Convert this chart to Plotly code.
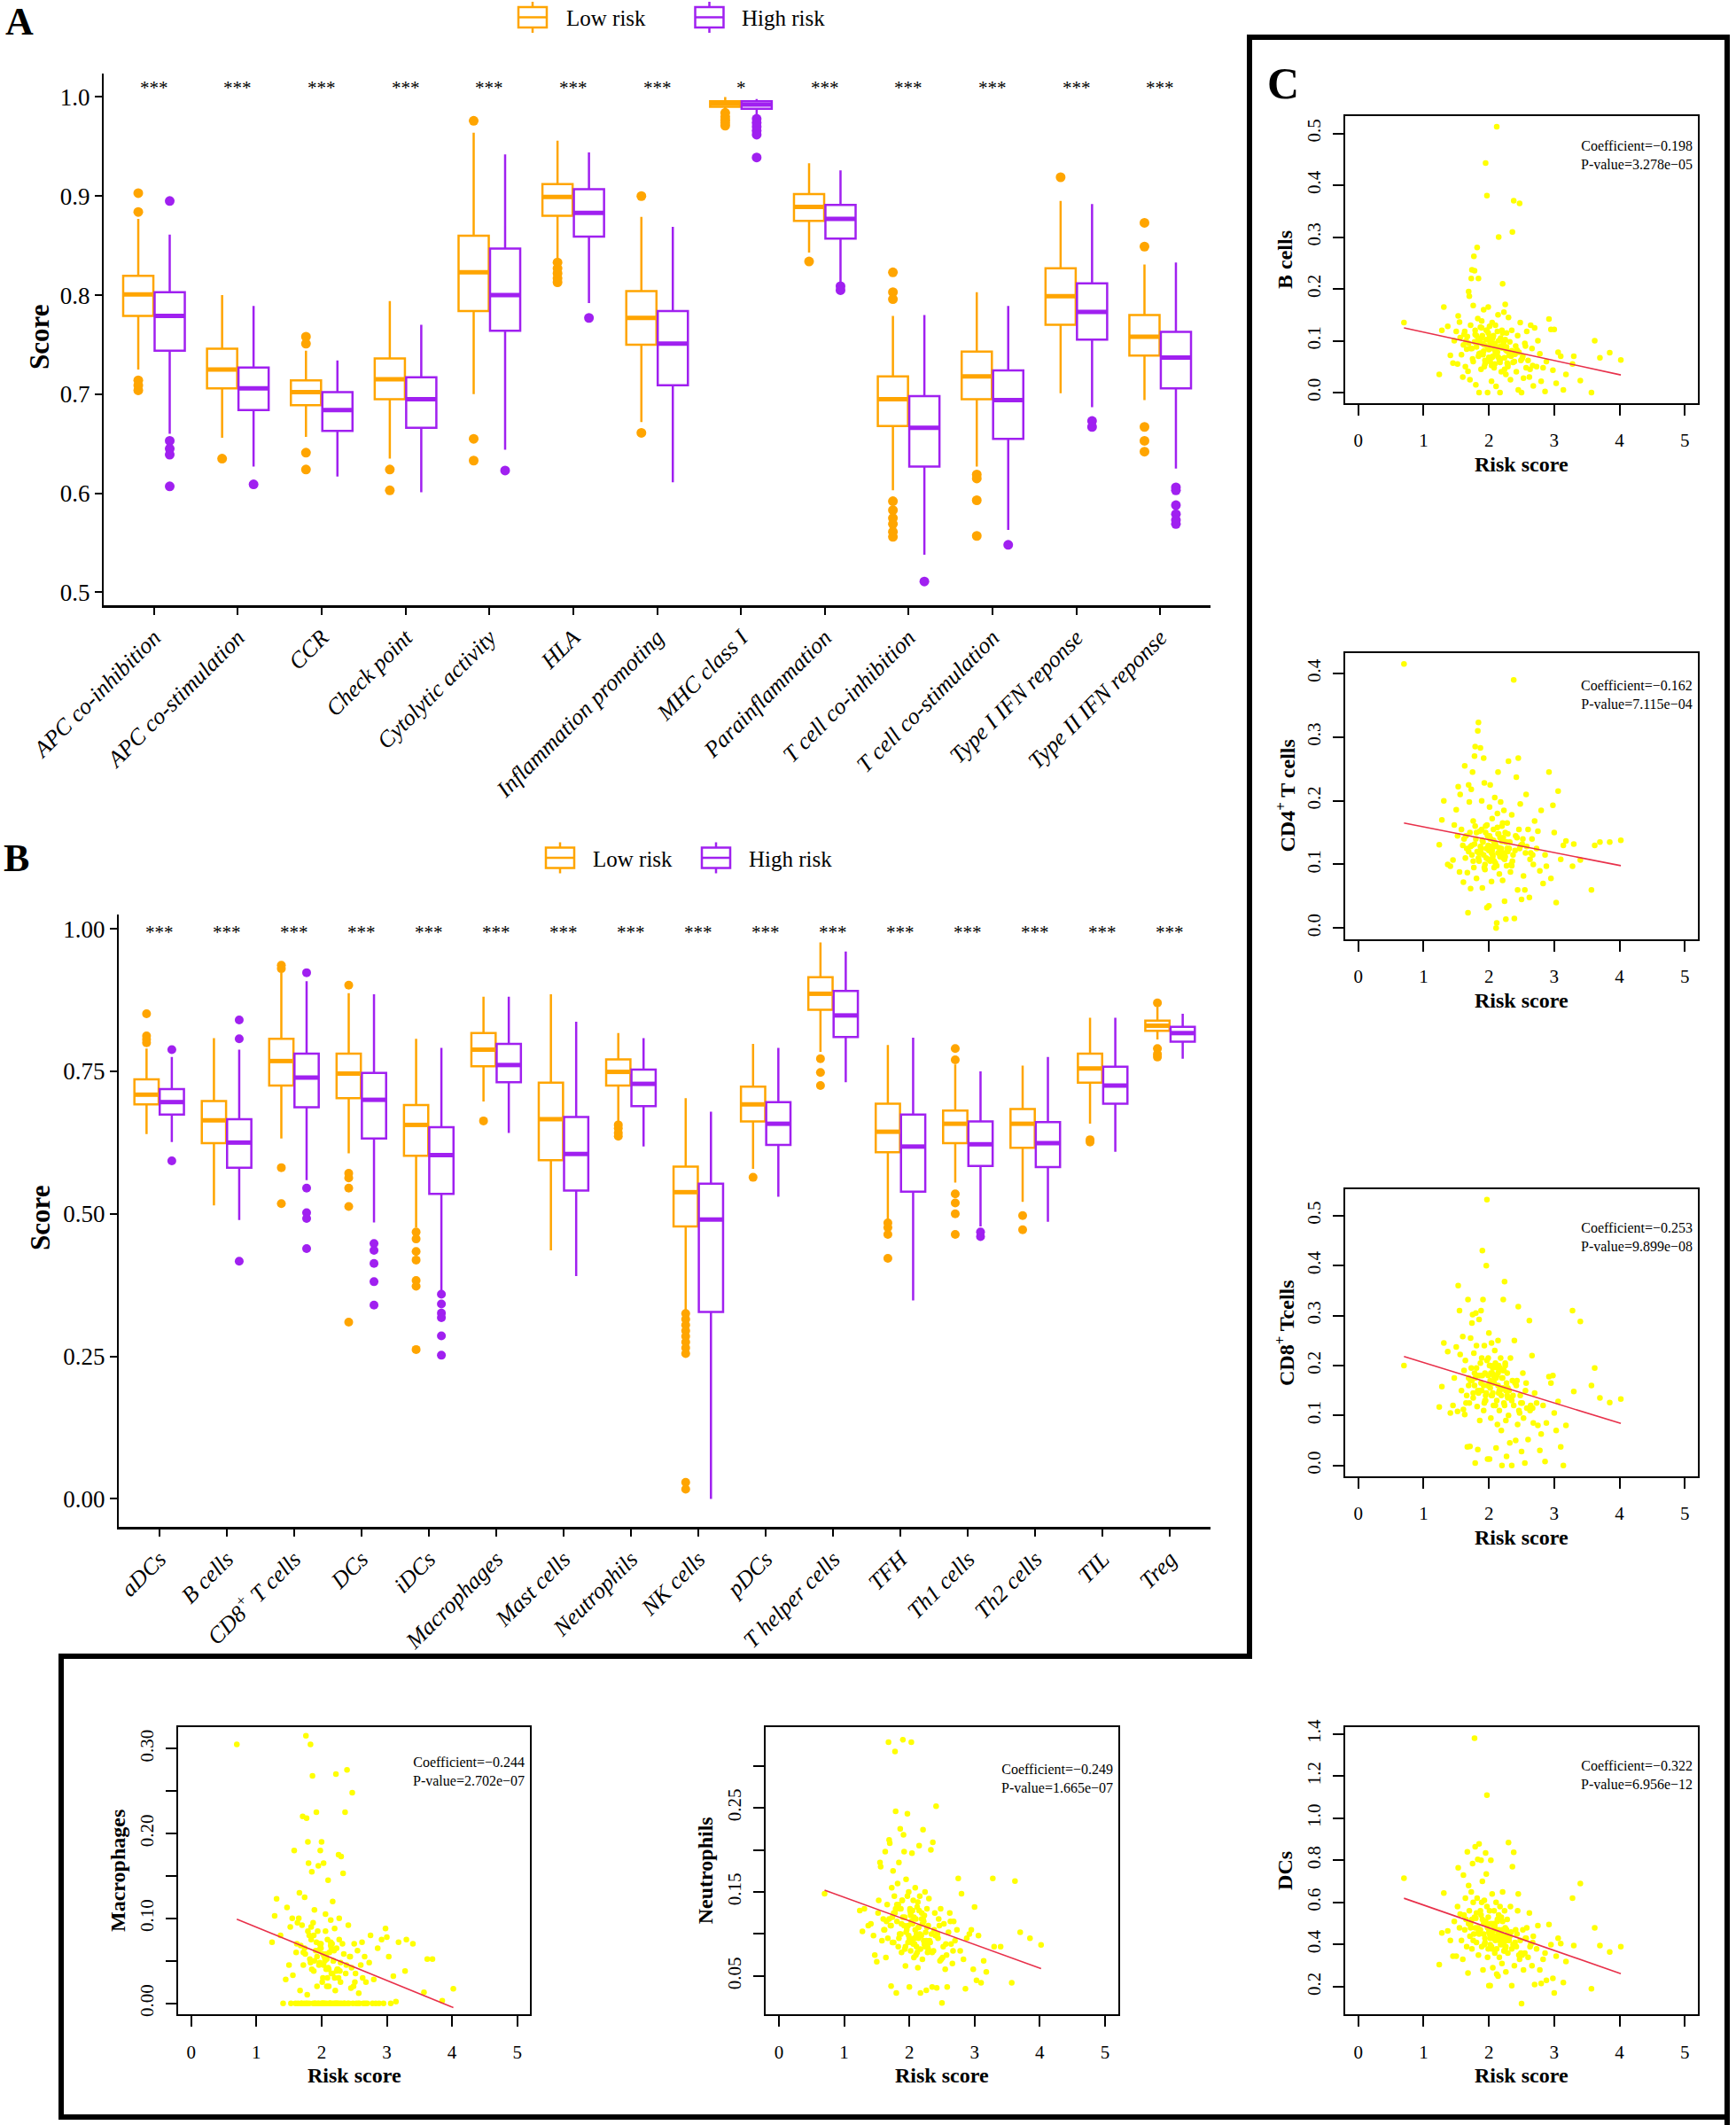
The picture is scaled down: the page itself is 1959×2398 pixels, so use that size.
import plotly.graph_objects as go

SERIF = "Liberation Serif, Times New Roman, serif"
LOW_C = "#FFA500"
HIGH_C = "#A020F0"
W, H = 1959, 2398

# ---------------- Panel A data ----------------
A_CATS = ["APC co-inhibition", "APC co-stimulation", "CCR", "Check point", "Cytolytic activity",
          "HLA", "Inflammation promoting", "MHC class I", "Parainflammation", "T cell co-inhibition",
          "T cell co-stimulation", "Type I IFN reponse", "Type II IFN reponse"]
A_SIGNIF = ["***", "***", "***", "***", "***", "***", "***", "*", "***", "***", "***", "***", "***"]
A_YTICKS = [0.5, 0.6, 0.7, 0.8, 0.9, 1.0]

A_LOW_Q3 = [0.8195, 0.746, 0.714, 0.736, 0.860, 0.912, 0.804, 0.9956, 0.902, 0.718, 0.743, 0.827, 0.780]
A_LOW_MED = [0.8007, 0.725, 0.702, 0.715, 0.823, 0.899, 0.777, 0.9932, 0.889, 0.695, 0.718, 0.799, 0.758]
A_LOW_Q1 = [0.779, 0.706, 0.689, 0.695, 0.784, 0.880, 0.750, 0.990, 0.875, 0.668, 0.695, 0.770, 0.739]
A_LOW_UP = [0.877, 0.800, 0.744, 0.794, 0.964, 0.956, 0.879, 1.000, 0.933, 0.779, 0.803, 0.895, 0.831]
A_LOW_LO = [0.725, 0.656, 0.657, 0.635, 0.700, 0.837, 0.672, 0.987, 0.843, 0.603, 0.627, 0.701, 0.694]
A_LOW_OUT = [[0.903, 0.884, 0.714, 0.709, 0.704], [0.635], [0.758, 0.751, 0.641, 0.624], [0.624, 0.603],
             [0.976, 0.655, 0.633], [0.833, 0.827, 0.822, 0.817, 0.813], [0.900, 0.661],
             [0.984, 0.980, 0.977, 0.974, 0.971], [0.834],
             [0.823, 0.803, 0.796, 0.592, 0.583, 0.575, 0.569, 0.561, 0.556],
             [0.619, 0.615, 0.593, 0.557], [0.919], [0.873, 0.849, 0.667, 0.653, 0.642]]

A_HIGH_Q3 = [0.803, 0.727, 0.702, 0.717, 0.847, 0.907, 0.784, 0.9956, 0.891, 0.698, 0.724, 0.812, 0.763]
A_HIGH_MED = [0.779, 0.706, 0.684, 0.695, 0.800, 0.883, 0.751, 0.9924, 0.877, 0.666, 0.694, 0.783, 0.737]
A_HIGH_Q1 = [0.744, 0.684, 0.663, 0.666, 0.764, 0.859, 0.709, 0.988, 0.857, 0.627, 0.655, 0.755, 0.706]
A_HIGH_UP = [0.861, 0.789, 0.734, 0.770, 0.942, 0.944, 0.869, 0.998, 0.926, 0.780, 0.789, 0.892, 0.833]
A_HIGH_LO = [0.660, 0.627, 0.617, 0.601, 0.644, 0.792, 0.611, 0.982, 0.813, 0.538, 0.563, 0.687, 0.625]
A_HIGH_OUT = [[0.895, 0.653, 0.645, 0.639, 0.607], [0.609], [], [], [0.623], [0.777], [],
              [0.978, 0.974, 0.970, 0.966, 0.962, 0.939], [0.809, 0.805], [0.511], [0.548],
              [0.673, 0.667], [0.606, 0.603, 0.588, 0.579, 0.573, 0.569]]

# ---------------- Panel B data ----------------
B_CATS = ["aDCs", "B cells", "CD8<sup>+</sup> T cells", "DCs", "iDCs", "Macrophages", "Mast cells",
          "Neutrophils", "NK cells", "pDCs", "T helper cells", "TFH", "Th1 cells", "Th2 cells", "TIL", "Treg"]
B_SIGNIF = ["***"] * 16
B_YTICKS = [0.0, 0.25, 0.5, 0.75, 1.0]

B_LOW_Q3 = [0.736, 0.698, 0.807, 0.781, 0.691, 0.817, 0.730, 0.771, 0.583, 0.723, 0.915, 0.693, 0.681, 0.684, 0.781, 0.839]
B_LOW_MED = [0.709, 0.664, 0.768, 0.746, 0.656, 0.788, 0.666, 0.749, 0.538, 0.692, 0.886, 0.644, 0.658, 0.658, 0.755, 0.830]
B_LOW_Q1 = [0.692, 0.624, 0.725, 0.703, 0.602, 0.759, 0.594, 0.725, 0.478, 0.662, 0.858, 0.608, 0.624, 0.616, 0.730, 0.821]
B_LOW_UP = [0.790, 0.808, 0.923, 0.887, 0.807, 0.881, 0.885, 0.817, 0.703, 0.798, 0.976, 0.796, 0.762, 0.760, 0.844, 0.863]
B_LOW_LO = [0.640, 0.515, 0.632, 0.606, 0.476, 0.697, 0.436, 0.660, 0.330, 0.579, 0.784, 0.488, 0.555, 0.521, 0.658, 0.806]
B_LOW_OUT = [[0.851, 0.812, 0.806, 0.800], [], [0.936, 0.930, 0.581, 0.518],
             [0.901, 0.571, 0.563, 0.545, 0.513, 0.310], [0.468, 0.456, 0.434, 0.419, 0.383, 0.373, 0.262],
             [0.663], [], [0.656, 0.650, 0.642, 0.636],
             [0.325, 0.315, 0.305, 0.295, 0.285, 0.275, 0.265, 0.255, 0.029, 0.017],
             [0.564], [0.772, 0.748, 0.725], [0.484, 0.476, 0.464, 0.422],
             [0.790, 0.770, 0.535, 0.519, 0.500, 0.464], [0.497, 0.472], [0.630, 0.626],
             [0.870, 0.790, 0.780, 0.775]]

B_HIGH_Q3 = [0.719, 0.666, 0.781, 0.747, 0.652, 0.798, 0.670, 0.753, 0.553, 0.696, 0.891, 0.674, 0.662, 0.661, 0.758, 0.828]
B_HIGH_MED = [0.696, 0.625, 0.739, 0.700, 0.603, 0.761, 0.605, 0.728, 0.490, 0.658, 0.848, 0.618, 0.622, 0.624, 0.725, 0.817]
B_HIGH_Q1 = [0.674, 0.581, 0.687, 0.632, 0.535, 0.731, 0.541, 0.689, 0.328, 0.621, 0.810, 0.539, 0.584, 0.582, 0.693, 0.802]
B_HIGH_UP = [0.775, 0.788, 0.908, 0.885, 0.791, 0.881, 0.837, 0.808, 0.679, 0.791, 0.960, 0.809, 0.750, 0.775, 0.844, 0.851]
B_HIGH_LO = [0.626, 0.489, 0.559, 0.485, 0.365, 0.642, 0.391, 0.618, 0.000, 0.530, 0.731, 0.348, 0.478, 0.486, 0.609, 0.772]
B_HIGH_OUT = [[0.788, 0.593], [0.840, 0.807, 0.417], [0.923, 0.545, 0.502, 0.492, 0.439],
              [0.448, 0.436, 0.413, 0.381, 0.340], [0.359, 0.342, 0.326, 0.318, 0.286, 0.252],
              [], [], [], [], [], [], [], [0.468, 0.460], [], [], []]

GROUPS = ["Low risk", "High risk"]

# ---------------- Scatter data (risk score vs cell scores) ----------------
RISK_SCORE = [
    0.70, 1.24, 1.28, 1.31, 1.37, 1.41, 1.45, 1.47, 1.50, 1.52,
    1.53, 1.55, 1.56, 1.58, 1.60, 1.61, 1.63, 1.64, 1.66, 1.67,
    1.68, 1.69, 1.70, 1.71, 1.72, 1.73, 1.74, 1.75, 1.76, 1.77,
    1.78, 1.79, 1.80, 1.81, 1.82, 1.83, 1.84, 1.85, 1.86, 1.87,
    1.88, 1.89, 1.90, 1.91, 1.92, 1.93, 1.94, 1.95, 1.96, 1.97,
    1.98, 1.99, 2.00, 2.01, 2.02, 2.03, 2.04, 2.05, 2.06, 2.07,
    2.08, 2.09, 2.10, 2.11, 2.12, 2.13, 2.14, 2.15, 2.16, 2.17,
    2.18, 2.19, 2.20, 2.21, 2.22, 2.23, 2.24, 2.25, 2.26, 2.27,
    2.28, 2.29, 2.30, 2.32, 2.33, 2.35, 2.36, 2.38, 2.39, 2.41,
    2.42, 2.44, 2.45, 2.47, 2.48, 2.50, 2.52, 2.53, 2.55, 2.57,
    2.58, 2.60, 2.62, 2.64, 2.66, 2.68, 2.70, 2.73, 2.75, 2.78,
    2.80, 2.83, 2.86, 2.88, 2.92, 2.95, 2.98, 3.00, 3.03, 3.06,
    3.10, 3.14, 3.18, 3.28, 3.30, 3.40, 3.57, 3.62, 3.70, 3.85,
    4.02, 1.74, 1.83, 1.92, 2.02, 2.11, 2.19, 2.26, 1.88, 2.05,
    1.96, 2.14, 2.23, 2.34, 1.79, 1.65, 2.08, 2.46, 1.99, 2.17,
    1.72, 1.76, 1.81, 1.85, 1.90, 1.93, 1.97, 2.00, 2.03, 2.06,
    2.09, 2.12, 2.15, 2.18, 2.21, 2.24, 2.27, 2.31, 2.37, 2.43,
    1.78, 1.84, 1.89, 1.94, 1.98, 2.01, 2.04, 2.07, 2.10, 2.13,
    2.16, 2.20, 2.25, 2.29, 2.40, 2.49, 2.56, 2.63, 1.62, 1.69,
    1.87, 1.95, 2.02, 2.08, 2.14, 2.22, 2.28, 2.35, 2.51, 2.67,
]

B_CELLS = [
    0.135, 0.035, 0.120, 0.165, 0.128, 0.072, 0.057, 0.100, 0.118, 0.055,
    0.148, 0.136, 0.106, 0.073, 0.030, 0.092, 0.118, 0.050, 0.084, 0.108,
    0.041, 0.195, 0.186, 0.025, 0.130, 0.220, 0.237, 0.065, 0.168, 0.263,
    0.235, 0.112, 0.015, 0.088, 0.280, 0.143, 0.220, 0.000, 0.097, 0.126,
    0.045, 0.138, 0.110, 0.073, 0.160, 0.092, 0.055, 0.443, 0.120, 0.380,
    0.000, 0.165, 0.083, 0.128, 0.060, 0.100, 0.022, 0.135, 0.070, 0.110,
    0.048, 0.095, 0.130, 0.012, 0.513, 0.078, 0.150, 0.300, 0.062, 0.000,
    0.105, 0.040, 0.120, 0.210, 0.088, 0.155, 0.067, 0.170, 0.035, 0.115,
    0.080, 0.050, 0.145, 0.098, 0.025, 0.120, 0.310, 0.370, 0.060, 0.090,
    0.040, 0.110, 0.005, 0.365, 0.135, 0.000, 0.070, 0.028, 0.095, 0.048,
    0.118, 0.062, 0.030, 0.130, 0.085, 0.013, 0.125, 0.050, 0.100, 0.075,
    0.022, 0.048, 0.002, 0.060, 0.142, 0.122, 0.043, 0.122, 0.018, 0.078,
    0.070, 0.005, 0.035, 0.055, 0.070, 0.023, 0.000, 0.100, 0.067, 0.077,
    0.063, 0.085, 0.100, 0.080, 0.095, 0.075, 0.090, 0.082, 0.105, 0.068,
    0.102, 0.088, 0.098, 0.070, 0.120, 0.100, 0.092, 0.078, 0.115, 0.058,
    0.085, 0.060, 0.110, 0.075, 0.095, 0.050, 0.120, 0.068, 0.090, 0.105,
    0.055, 0.080, 0.100, 0.065, 0.115, 0.045, 0.088, 0.072, 0.058, 0.082,
    0.098, 0.070, 0.125, 0.062, 0.088, 0.108, 0.052, 0.093, 0.078, 0.118,
    0.066, 0.086, 0.102, 0.054, 0.074, 0.062, 0.090, 0.045, 0.112, 0.095,
    0.076, 0.058, 0.098, 0.084, 0.069, 0.092, 0.057, 0.081, 0.066, 0.052,
]

CD4_T_CELLS = [
    0.415, 0.131, 0.170, 0.200, 0.100, 0.097, 0.107, 0.162, 0.186, 0.145,
    0.222, 0.088, 0.210, 0.155, 0.130, 0.072, 0.255, 0.110, 0.125, 0.087,
    0.024, 0.225, 0.198, 0.150, 0.062, 0.218, 0.115, 0.245, 0.168, 0.095,
    0.270, 0.285, 0.140, 0.078, 0.120, 0.310, 0.323, 0.105, 0.152, 0.283,
    0.118, 0.200, 0.063, 0.135, 0.267, 0.228, 0.092, 0.160, 0.125, 0.032,
    0.145, 0.108, 0.035, 0.190, 0.225, 0.128, 0.073, 0.172, 0.115, 0.155,
    0.095, 0.205, 0.132, 0.000, 0.008, 0.180, 0.245, 0.118, 0.085, 0.142,
    0.198, 0.125, 0.160, 0.075, 0.110, 0.185, 0.042, 0.150, 0.014, 0.098,
    0.165, 0.120, 0.262, 0.135, 0.088, 0.178, 0.105, 0.390, 0.015, 0.145,
    0.237, 0.060, 0.267, 0.125, 0.195, 0.045, 0.140, 0.082, 0.060, 0.210,
    0.128, 0.155, 0.048, 0.118, 0.140, 0.100, 0.168, 0.125, 0.152, 0.090,
    0.185, 0.070, 0.115, 0.097, 0.245, 0.078, 0.193, 0.150, 0.040, 0.215,
    0.108, 0.130, 0.137, 0.097, 0.132, 0.107, 0.060, 0.130, 0.135, 0.135,
    0.138, 0.130, 0.120, 0.115, 0.140, 0.128, 0.112, 0.135, 0.125, 0.122,
    0.110, 0.148, 0.118, 0.100, 0.160, 0.145, 0.105, 0.155, 0.130, 0.112,
    0.128, 0.105, 0.150, 0.118, 0.138, 0.095, 0.162, 0.122, 0.140, 0.112,
    0.130, 0.098, 0.148, 0.120, 0.165, 0.108, 0.135, 0.125, 0.115, 0.142,
    0.132, 0.110, 0.155, 0.100, 0.125, 0.145, 0.118, 0.138, 0.102, 0.158,
    0.126, 0.136, 0.112, 0.148, 0.122, 0.130, 0.118, 0.108, 0.140, 0.120,
    0.128, 0.150, 0.105, 0.135, 0.118, 0.142, 0.125, 0.098, 0.132, 0.115,
]

CD8_T_CELLS = [
    0.200, 0.117, 0.158, 0.245, 0.228, 0.105, 0.120, 0.175, 0.237, 0.108,
    0.360, 0.310, 0.222, 0.150, 0.258, 0.112, 0.102, 0.210, 0.140, 0.037,
    0.332, 0.175, 0.125, 0.038, 0.255, 0.195, 0.285, 0.302, 0.145, 0.225,
    0.160, 0.005, 0.305, 0.240, 0.118, 0.032, 0.180, 0.292, 0.090, 0.205,
    0.310, 0.150, 0.430, 0.332, 0.110, 0.240, 0.185, 0.130, 0.400, 0.532,
    0.013, 0.215, 0.265, 0.013, 0.170, 0.095, 0.245, 0.140, 0.195, 0.120,
    0.165, 0.230, 0.205, 0.035, 0.180, 0.082, 0.250, 0.145, 0.110, 0.195,
    0.215, 0.070, 0.000, 0.175, 0.332, 0.125, 0.368, 0.200, 0.090, 0.018,
    0.185, 0.155, 0.100, 0.045, 0.215, 0.000, 0.170, 0.120, 0.250, 0.050,
    0.160, 0.082, 0.318, 0.105, 0.140, 0.028, 0.185, 0.095, 0.005, 0.165,
    0.115, 0.052, 0.290, 0.120, 0.220, 0.085, 0.145, 0.125, 0.080, 0.030,
    0.063, 0.120, 0.008, 0.085, 0.178, 0.165, 0.180, 0.105, 0.070, 0.128,
    0.037, 0.000, 0.080, 0.310, 0.148, 0.288, 0.160, 0.195, 0.135, 0.126,
    0.133, 0.170, 0.150, 0.160, 0.155, 0.175, 0.140, 0.150, 0.165, 0.185,
    0.145, 0.160, 0.190, 0.135, 0.175, 0.125, 0.200, 0.110, 0.180, 0.150,
    0.170, 0.135, 0.195, 0.150, 0.180, 0.125, 0.210, 0.160, 0.185, 0.145,
    0.175, 0.130, 0.200, 0.155, 0.190, 0.120, 0.165, 0.150, 0.140, 0.170,
    0.185, 0.145, 0.215, 0.130, 0.160, 0.200, 0.140, 0.180, 0.120, 0.195,
    0.150, 0.175, 0.205, 0.135, 0.165, 0.125, 0.150, 0.110, 0.190, 0.160,
    0.180, 0.140, 0.200, 0.165, 0.185, 0.155, 0.140, 0.130, 0.125, 0.115,
]

DCS = [
    0.715, 0.305, 0.455, 0.645, 0.465, 0.420, 0.345, 0.510, 0.345, 0.580,
    0.765, 0.480, 0.545, 0.420, 0.330, 0.730, 0.470, 0.620, 0.390, 0.840,
    0.265, 0.680, 0.560, 0.440, 0.500, 0.650, 0.380, 0.785, 0.600, 0.450,
    1.380, 0.865, 0.525, 0.410, 0.620, 0.805, 0.350, 0.878, 0.470, 0.560,
    0.800, 0.390, 0.700, 0.280, 0.500, 0.610, 0.430, 0.835, 0.735, 1.110,
    0.340, 0.530, 0.205, 0.450, 0.205, 0.800, 0.380, 0.640, 0.290, 0.490,
    0.560, 0.360, 0.420, 0.600, 0.260, 0.510, 0.250, 0.470, 0.340, 0.580,
    0.400, 0.530, 0.310, 0.650, 0.440, 0.370, 0.560, 0.480, 0.270, 0.420,
    0.520, 0.360, 0.885, 0.440, 0.580, 0.205, 0.770, 0.838, 0.300, 0.470,
    0.390, 0.560, 0.640, 0.330, 0.420, 0.120, 0.470, 0.280, 0.360, 0.430,
    0.480, 0.340, 0.550, 0.400, 0.300, 0.440, 0.210, 0.380, 0.490, 0.280,
    0.215, 0.330, 0.360, 0.230, 0.495, 0.400, 0.240, 0.170, 0.345, 0.430,
    0.405, 0.220, 0.320, 0.620, 0.395, 0.690, 0.190, 0.480, 0.395, 0.365,
    0.390, 0.520, 0.480, 0.450, 0.400, 0.470, 0.430, 0.390, 0.540, 0.460,
    0.500, 0.430, 0.410, 0.460, 0.480, 0.520, 0.440, 0.350, 0.380, 0.450,
    0.480, 0.420, 0.550, 0.450, 0.520, 0.400, 0.580, 0.460, 0.500, 0.430,
    0.490, 0.380, 0.540, 0.440, 0.510, 0.370, 0.470, 0.420, 0.400, 0.450,
    0.530, 0.460, 0.600, 0.410, 0.480, 0.560, 0.390, 0.500, 0.440, 0.520,
    0.420, 0.470, 0.380, 0.450, 0.410, 0.360, 0.430, 0.390, 0.540, 0.500,
    0.470, 0.510, 0.430, 0.480, 0.450, 0.400, 0.440, 0.380, 0.350, 0.410,
]

MACROPHAGES = [
    0.305, 0.072, 0.103, 0.123, 0.080, 0.000, 0.028, 0.113, 0.045, 0.090,
    0.000, 0.100, 0.033, 0.180, 0.000, 0.060, 0.095, 0.000, 0.130, 0.015,
    0.068, 0.000, 0.092, 0.220, 0.045, 0.000, 0.125, 0.058, 0.315, 0.218,
    0.010, 0.190, 0.165, 0.000, 0.052, 0.305, 0.075, 0.155, 0.268, 0.000,
    0.038, 0.110, 0.000, 0.062, 0.225, 0.020, 0.085, 0.162, 0.000, 0.048,
    0.180, 0.070, 0.190, 0.000, 0.030, 0.165, 0.055, 0.000, 0.105, 0.040,
    0.000, 0.075, 0.145, 0.020, 0.060, 0.000, 0.098, 0.035, 0.000, 0.120,
    0.050, 0.000, 0.088, 0.015, 0.270, 0.065, 0.000, 0.040, 0.175, 0.100,
    0.000, 0.025, 0.173, 0.070, 0.153, 0.000, 0.225, 0.045, 0.275, 0.092,
    0.000, 0.055, 0.018, 0.248, 0.000, 0.070, 0.035, 0.000, 0.062, 0.012,
    0.000, 0.045, 0.072, 0.000, 0.055, 0.025, 0.000, 0.048, 0.080, 0.000,
    0.028, 0.000, 0.065, 0.000, 0.075, 0.000, 0.088, 0.078, 0.055, 0.000,
    0.032, 0.002, 0.072, 0.038, 0.075, 0.070, 0.013, 0.052, 0.052, 0.003,
    0.017, 0.065, 0.048, 0.072, 0.058, 0.040, 0.062, 0.030, 0.080, 0.050,
    0.045, 0.068, 0.038, 0.058, 0.085, 0.100, 0.020, 0.042, 0.065, 0.035,
    0.060, 0.000, 0.080, 0.040, 0.000, 0.055, 0.070, 0.000, 0.045, 0.085,
    0.030, 0.000, 0.065, 0.050, 0.000, 0.040, 0.075, 0.000, 0.035, 0.055,
    0.000, 0.090, 0.050, 0.000, 0.065, 0.025, 0.000, 0.058, 0.042, 0.000,
    0.070, 0.030, 0.000, 0.048, 0.000, 0.020, 0.000, 0.030, 0.070, 0.000,
    0.095, 0.062, 0.000, 0.052, 0.072, 0.000, 0.038, 0.000, 0.025, 0.000,
]

NEUTROPHILS = [
    0.148, 0.128, 0.103, 0.130, 0.110, 0.112, 0.098, 0.075, 0.067, 0.125,
    0.140, 0.185, 0.180, 0.092, 0.118, 0.105, 0.198, 0.072, 0.135, 0.095,
    0.328, 0.212, 0.208, 0.110, 0.038, 0.155, 0.090, 0.175, 0.125, 0.145,
    0.317, 0.246, 0.030, 0.115, 0.160, 0.085, 0.185, 0.130, 0.225, 0.100,
    0.078, 0.140, 0.331, 0.218, 0.198, 0.120, 0.062, 0.165, 0.105, 0.243,
    0.090, 0.150, 0.037, 0.128, 0.080, 0.328, 0.196, 0.112, 0.140, 0.072,
    0.095, 0.155, 0.118, 0.085, 0.132, 0.060, 0.108, 0.205, 0.145, 0.030,
    0.098, 0.125, 0.070, 0.224, 0.115, 0.088, 0.150, 0.102, 0.033, 0.130,
    0.078, 0.110, 0.142, 0.090, 0.200, 0.037, 0.209, 0.105, 0.125, 0.252,
    0.036, 0.095, 0.118, 0.068, 0.130, 0.018, 0.085, 0.112, 0.058, 0.075,
    0.037, 0.102, 0.125, 0.088, 0.065, 0.115, 0.092, 0.105, 0.166, 0.080,
    0.148, 0.070, 0.035, 0.095, 0.100, 0.105, 0.058, 0.132, 0.045, 0.098,
    0.042, 0.068, 0.055, 0.166, 0.085, 0.085, 0.042, 0.163, 0.102, 0.095,
    0.087, 0.120, 0.135, 0.110, 0.125, 0.100, 0.118, 0.092, 0.112, 0.128,
    0.108, 0.095, 0.122, 0.100, 0.130, 0.115, 0.088, 0.110, 0.098, 0.082,
    0.110, 0.090, 0.135, 0.100, 0.120, 0.082, 0.145, 0.095, 0.115, 0.088,
    0.105, 0.078, 0.128, 0.098, 0.118, 0.085, 0.108, 0.092, 0.080, 0.100,
    0.125, 0.095, 0.140, 0.085, 0.110, 0.130, 0.090, 0.120, 0.075, 0.138,
    0.100, 0.112, 0.090, 0.082, 0.098, 0.070, 0.088, 0.115, 0.105, 0.118,
    0.130, 0.102, 0.122, 0.095, 0.108, 0.092, 0.085, 0.078, 0.072, 0.080,
]

# regression lines (risk score endpoints and fitted values)
FIT_X = [0.70, 4.02]
B_CELLS_FIT = [0.125, 0.034]
CD4_FIT = [0.165, 0.098]
CD8_FIT = [0.218, 0.084]
DCS_FIT = [0.620, 0.262]
MACROPHAGES_FIT = [0.099, -0.005]
NEUTROPHILS_FIT = [0.152, 0.059]

SCATTER_PANELS = [
    dict(name="B cells", y=B_CELLS, fit=B_CELLS_FIT, coef="−0.198", p="3.278e−05",
         yticks=[0.0, 0.1, 0.2, 0.3, 0.4, 0.5], ylabels=["0.0", "0.1", "0.2", "0.3", "0.4", "0.5"], yminor=[],
         yrange=[-0.0205, 0.5335], box=(1518, 1916, 131, 455), sdy=44),
    dict(name="CD4<sup>+</sup> T cells", y=CD4_T_CELLS, fit=CD4_FIT, coef="−0.162", p="7.115e−04",
         yticks=[0.0, 0.1, 0.2, 0.3, 0.4], ylabels=["0.0", "0.1", "0.2", "0.3", "0.4"], yminor=[],
         yrange=[-0.0177, 0.432], box=(1518, 1916, 737, 1060), sdy=47),
    dict(name="CD8<sup>+</sup> Tcells", y=CD8_T_CELLS, fit=CD8_FIT, coef="−0.253", p="9.899e−08",
         yticks=[0.0, 0.1, 0.2, 0.3, 0.4, 0.5], ylabels=["0.0", "0.1", "0.2", "0.3", "0.4", "0.5"], yminor=[],
         yrange=[-0.0218, 0.553], box=(1518, 1916, 1342, 1666), sdy=54),
    dict(name="DCs", y=DCS, fit=DCS_FIT, coef="−0.322", p="6.956e−12",
         yticks=[0.2, 0.4, 0.6, 0.8, 1.0, 1.2, 1.4], ylabels=["0.2", "0.4", "0.6", "0.8", "1.0", "1.2", "1.4"],
         yminor=[], yrange=[0.0674, 1.435], box=(1518, 1916, 1948.5, 2273.4), sdy=54),
    dict(name="Macrophages", y=MACROPHAGES, fit=MACROPHAGES_FIT, coef="−0.244", p="2.702e−07",
         yticks=[0.0, 0.10, 0.20, 0.30], ylabels=["0.00", "0.10", "0.20", "0.30"], yminor=[0.05, 0.15, 0.25],
         yrange=[-0.0133, 0.3258], box=(201, 598.4, 1948.5, 2273.4), sdy=50),
    dict(name="Neutrophils", y=NEUTROPHILS, fit=NEUTROPHILS_FIT, coef="−0.249", p="1.665e−07",
         yticks=[0.05, 0.15, 0.25], ylabels=["0.05", "0.15", "0.25"], yminor=[0.10, 0.20, 0.30],
         yrange=[0.0042, 0.3465], box=(864.3, 1261.6, 1948.5, 2273.4), sdy=58),
]


def xd(a, b):
    return [a / W, b / W]


def yd(top, bottom):
    return [1 - bottom / H, 1 - top / H]


def pxx(x):
    return x / W


def pyy(y):
    return 1 - y / H


fig = go.Figure()
annotations = []
shapes = []


def add_box_panel(ax, cats, low, high, box_w, med_px, out_size, signif, sig_y):
    xa = "x" if ax == 1 else f"x{ax}"
    ya = "y" if ax == 1 else f"y{ax}"
    n = len(cats)
    for label, st, color, sgn in ((GROUPS[0], low, LOW_C, -1), (GROUPS[1], high, HIGH_C, 1)):
        q3, med, q1, up, lo, outs = st
        pos = [i + 1 + sgn * 0.1875 for i in range(n)]
        fig.add_trace(go.Box(
            x=pos, q1=q1, median=med, q3=q3, lowerfence=lo, upperfence=up,
            orientation="v", name=label, width=box_w, whiskerwidth=0,
            fillcolor="white", line=dict(color=color, width=2.5), boxpoints=False,
            xaxis=xa, yaxis=ya, showlegend=False, hoverinfo="skip"))
        fig.add_trace(go.Scatter(
            x=pos, y=med, mode="markers", xaxis=xa, yaxis=ya, showlegend=False, hoverinfo="skip",
            marker=dict(symbol="line-ew", size=med_px, color=color, line=dict(color=color, width=5))))
        ox, oy = [], []
        for p, o in zip(pos, outs):
            ox += [p] * len(o)
            oy += o
        fig.add_trace(go.Scatter(
            x=ox, y=oy, mode="markers", xaxis=xa, yaxis=ya, showlegend=False, hoverinfo="skip",
            marker=dict(size=out_size, color=color)))
    for i, s in enumerate(signif):
        annotations.append(dict(x=i + 1, y=sig_y, xref=xa, yref=ya, text=s, showarrow=False,
                                xanchor="center", yanchor="middle",
                                font=dict(family=SERIF, size=21, color="black"), yshift=-4))


add_box_panel(1, A_CATS,
              (A_LOW_Q3, A_LOW_MED, A_LOW_Q1, A_LOW_UP, A_LOW_LO, A_LOW_OUT),
              (A_HIGH_Q3, A_HIGH_MED, A_HIGH_Q1, A_HIGH_UP, A_HIGH_LO, A_HIGH_OUT),
              0.36, 24, 11, A_SIGNIF, 1.013)
add_box_panel(2, B_CATS,
              (B_LOW_Q3, B_LOW_MED, B_LOW_Q1, B_LOW_UP, B_LOW_LO, B_LOW_OUT),
              (B_HIGH_Q3, B_HIGH_MED, B_HIGH_Q1, B_HIGH_UP, B_HIGH_LO, B_HIGH_OUT),
              0.36, 19.5, 10, B_SIGNIF, 1.0)

# ggplot-style legend keys (box glyph + label) for the two box panels
LEGEND_KEYS = [  # (glyph centre x, centre y, text left x) in pixels, one row per panel
    [(601, 19.5, 637), (800.5, 19.5, 835)],
    [(632, 968, 667), (808, 968, 843)],
]
for row in LEGEND_KEYS:
    for (cx, cy, tx), label, color in zip(row, GROUPS, (LOW_C, HIGH_C)):
        ln = dict(color=color, width=2.5)
        shapes.append(dict(type="rect", xref="paper", yref="paper", x0=pxx(cx - 16), x1=pxx(cx + 16),
                           y0=pyy(cy + 11.5), y1=pyy(cy - 11.5), line=ln, fillcolor="white"))
        for (a0, b0, a1, b1) in ((cx - 16, cy, cx + 16, cy), (cx, cy - 11.5, cx, cy - 17.5),
                                 (cx, cy + 11.5, cx, cy + 17.5)):
            shapes.append(dict(type="line", xref="paper", yref="paper", x0=pxx(a0), x1=pxx(a1),
                               y0=pyy(b0), y1=pyy(b1), line=ln))
        annotations.append(dict(x=pxx(tx), y=pyy(cy + 1), xref="paper", yref="paper", text=label,
                                showarrow=False, xanchor="left", yanchor="middle",
                                font=dict(family=SERIF, size=25, color="black")))

layout = dict(
    width=W, height=H, margin=dict(l=0, r=0, t=0, b=0, pad=0, autoexpand=False),
    paper_bgcolor="white", plot_bgcolor="white", showlegend=False,
    font=dict(family=SERIF, color="black"),
)

cat_common = dict(showline=True, linecolor="black", ticks="outside", tickcolor="black", automargin=False,
                  showgrid=False, zeroline=False, ticklen=8, tickwidth=2)

layout["xaxis"] = dict(domain=xd(117, 1366), anchor="y", range=[0.4, 13.6],
                       tickvals=list(range(1, len(A_CATS) + 1)), ticktext=A_CATS, tickangle=-45,
                       tickfont=dict(family=SERIF, size=26, style="italic", color="black"),
                       linewidth=3, **cat_common)
layout["yaxis"] = dict(domain=yd(82.6, 683), anchor="x", range=[0.487, 1.024],
                       tickvals=A_YTICKS, ticktext=[f"{v:.1f}" for v in A_YTICKS],
                       tickfont=dict(family=SERIF, size=27, color="black"), linewidth=2, **cat_common)
layout["xaxis2"] = dict(domain=xd(134, 1366), anchor="y2", range=[0.4, 16.6],
                        tickvals=list(range(1, len(B_CATS) + 1)), ticktext=B_CATS, tickangle=-45,
                        tickfont=dict(family=SERIF, size=26, style="italic", color="black"),
                        linewidth=3, **cat_common)
layout["yaxis2"] = dict(domain=yd(1032, 1723), anchor="x2", range=[-0.049, 1.025],
                        tickvals=B_YTICKS, ticktext=[f"{v:.2f}" for v in B_YTICKS],
                        tickfont=dict(family=SERIF, size=27, color="black"), linewidth=2, **cat_common)

# scatter panels
for k, sp in enumerate(SCATTER_PANELS):
    ax = k + 3
    x0, x1, top, bottom = sp["box"]
    fig.add_trace(go.Scatter(x=RISK_SCORE, y=sp["y"], mode="markers", xaxis=f"x{ax}", yaxis=f"y{ax}",
                             showlegend=False, hoverinfo="skip",
                             marker=dict(size=6.5, color="#FFFF00")))
    fig.add_trace(go.Scatter(x=FIT_X, y=sp["fit"], mode="lines", xaxis=f"x{ax}", yaxis=f"y{ax}",
                             showlegend=False, hoverinfo="skip",
                             line=dict(color="#E8304A", width=1.6)))
    common = dict(showline=True, linecolor="black", linewidth=2, mirror=True, ticks="outside",
                  ticklen=12, tickwidth=2, tickcolor="black", showgrid=False, zeroline=False,
                  automargin=False, tickfont=dict(family=SERIF, size=21, color="black"))
    layout[f"xaxis{ax}"] = dict(domain=xd(x0, x1), anchor=f"y{ax}", range=[-0.2, 5.2],
                                tickvals=[0, 1, 2, 3, 4, 5], ticktext=["0", "1", "2", "3", "4", "5"],
                                ticklabelstandoff=10, **common)
    yaxis = dict(domain=yd(top, bottom), anchor=f"x{ax}", range=sp["yrange"],
                 tickvals=sp["yticks"], ticktext=sp["ylabels"], tickangle=-90,
                 ticklabelstandoff=6, **common)
    if sp["yminor"]:
        yaxis["minor"] = dict(tickmode="array", tickvals=sp["yminor"], ticks="outside",
                              ticklen=12, tickwidth=2, tickcolor="black", showgrid=False)
    layout[f"yaxis{ax}"] = yaxis
    annotations.append(dict(x=pxx((x0 + x1) / 2), y=pyy(bottom + 69), xref="paper", yref="paper",
                            text="<b>Risk score</b>", showarrow=False, xanchor="center", yanchor="middle",
                            font=dict(family=SERIF, size=24, color="black")))
    annotations.append(dict(x=pxx(x0 - 68), y=pyy((top + bottom) / 2), xref="paper", yref="paper",
                            text=f"<b>{sp['name']}</b>", showarrow=False, textangle=-90,
                            xanchor="center", yanchor="middle",
                            font=dict(family=SERIF, size=24, color="black")))
    annotations.append(dict(x=pxx(x1 - 4), y=pyy(top + sp["sdy"]), xref="paper", yref="paper",
                            text=f"Coefficient={sp['coef']}<br>P-value={sp['p']}", showarrow=False,
                            xanchor="right", yanchor="middle", align="right",
                            font=dict(family=SERIF, size=16, color="black")))

# panel letters and box-plot y titles
for txt, x, y, s in (("A", 22, 24, 44), ("B", 18, 968, 44), ("C", 1448, 94, 50)):
    annotations.append(dict(x=pxx(x), y=pyy(y), xref="paper", yref="paper", text=f"<b>{txt}</b>",
                            showarrow=False, xanchor="center", yanchor="middle",
                            font=dict(family=SERIF, size=s, color="black")))
for y in (381, 1375):
    annotations.append(dict(x=pxx(45), y=pyy(y), xref="paper", yref="paper", text="<b>Score</b>",
                            showarrow=False, textangle=-90, xanchor="center", yanchor="middle",
                            font=dict(family=SERIF, size=31, color="black")))

# frame lines
for (ax0, ay0, ax1, ay1) in ((1410, 42, 1952, 42), (1410, 39, 1410, 1872), (1949, 39, 1949, 2398),
                             (66, 1869, 1413, 1869), (69, 1866, 69, 2392), (66, 2389, 1952, 2389)):
    shapes.append(dict(type="line", xref="paper", yref="paper", x0=pxx(ax0), x1=pxx(ax1),
                       y0=pyy(ay0), y1=pyy(ay1), line=dict(color="black", width=6)))

layout["annotations"] = annotations
layout["shapes"] = shapes
fig.update_layout(**layout)

fig.write_html("out.html", config={"displayModeBar": False},
               post_script="document.body.style.margin='0px';document.documentElement.style.overflow='hidden';")
